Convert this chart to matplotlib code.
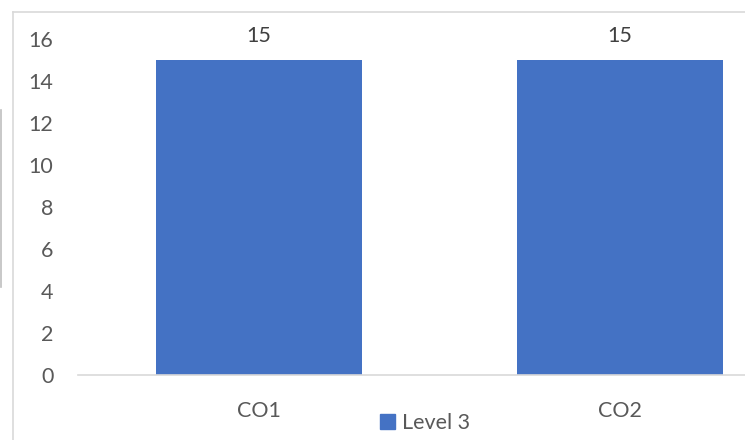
import matplotlib.pyplot as plt
from matplotlib.lines import Line2D
from matplotlib.patches import Patch

plt.rcParams['font.family'] = ['Lato', 'DejaVu Sans']

categories = ['CO1', 'CO2']
level3 = [15, 15]
y_ticks = [0, 2, 4, 6, 8, 10, 12, 14, 16]

bar_color = '#4472C4'
text_color = '#595959'

fig = plt.figure(figsize=(7.45, 4.4), dpi=100)
# plot area runs past the right edge, like the cropped original
ax = fig.add_axes([78.5 / 745, 65 / 440, 722 / 745, 336 / 440])

x = range(len(categories))
bars = ax.bar(x, level3, width=0.57, color=bar_color, label='Level 3')
ax.set_xlim(-0.5, len(categories) - 0.5)
ax.set_ylim(0, 16)
ax.set_yticks(y_ticks)
ax.set_xticks(list(x))
ax.set_xticklabels(categories)

for b, v in zip(bars, level3):
    ax.annotate(str(v), (b.get_x() + b.get_width() / 2, v), xytext=(0, 10),
                textcoords='offset points', ha='center', va='bottom',
                fontsize=15.5, color='#404040')

for s in ['top', 'right', 'left']:
    ax.spines[s].set_visible(False)
ax.spines['bottom'].set_color('#d9d9d9')
ax.spines['bottom'].set_linewidth(1.2)
ax.tick_params(axis='both', length=0, labelsize=15.5, labelcolor=text_color)
ax.tick_params(axis='y', pad=18)
ax.tick_params(axis='x', pad=19)

# chart area border
fig.add_artist(Line2D([13 / 745, 13 / 745], [0, 1 - 12 / 440], color='#d9d9d9', lw=1.2))
fig.add_artist(Line2D([13 / 745, 1], [1 - 12 / 440, 1 - 12 / 440], color='#d9d9d9', lw=1.2))
fig.add_artist(Line2D([1 / 745, 1 / 745], [1 - 110 / 440, 1 - 287 / 440], color='#bfbfbf', lw=1.2))

handles = [Patch(color=bar_color, label='Level 3')]
fig.legend(handles=handles, loc='center', bbox_to_anchor=(425 / 745, 1 - 423 / 440),
           frameon=False, fontsize=15.5, handlelength=0.7, handleheight=0.7,
           handletextpad=0.35, labelcolor=text_color)

fig.savefig('out.png', dpi=100)
